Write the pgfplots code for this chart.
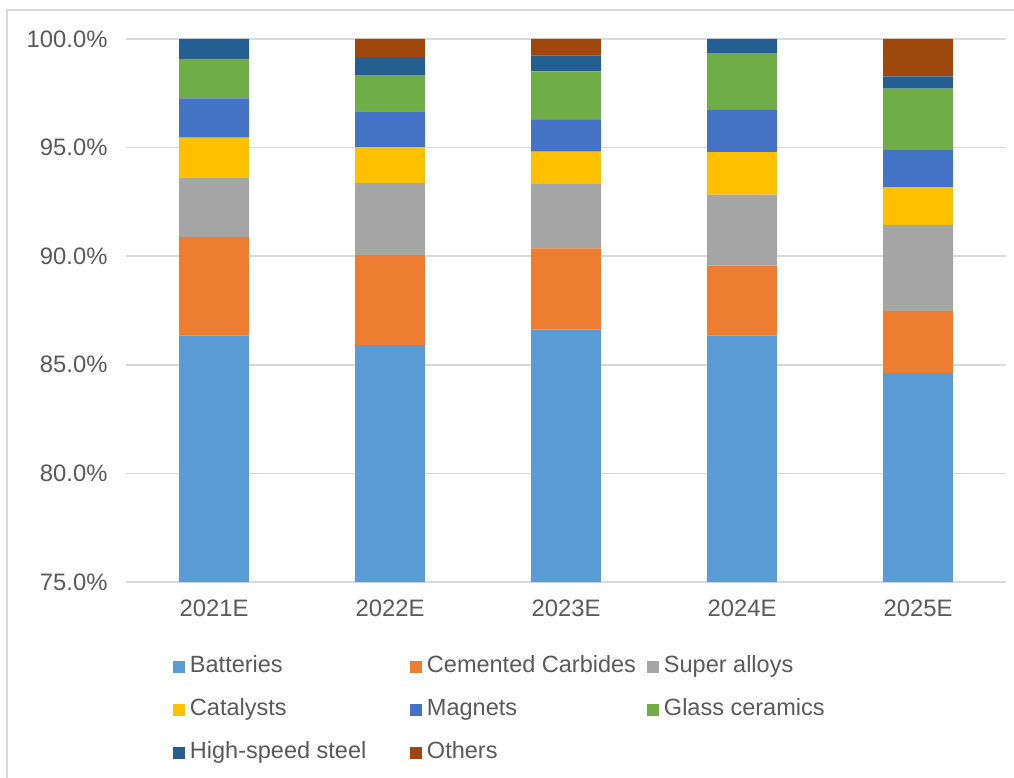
\documentclass[border=0pt]{standalone}
\usepackage{pgfplots}
\pgfplotsset{compat=1.18}
\usepackage{fontspec}
\setmainfont{Liberation Sans}
\definecolor{cBat}{HTML}{5B9BD5}
\definecolor{cCem}{HTML}{ED7D31}
\definecolor{cSup}{HTML}{A5A5A5}
\definecolor{cCat}{HTML}{FFC000}
\definecolor{cMag}{HTML}{4472C4}
\definecolor{cGla}{HTML}{70AD47}
\definecolor{cHss}{HTML}{255E91}
\definecolor{cOth}{HTML}{9E480E}
\definecolor{textgray}{HTML}{595959}
\definecolor{gridgray}{HTML}{D9D9D9}
\begin{document}
\begin{tikzpicture}
\useasboundingbox (0pt,0pt) rectangle (1014pt,777pt);
\draw[gridgray, line width=2pt] (7pt,-20pt) -- (7pt,767pt) -- (1040pt,767pt);
\begin{axis}[
  at={(126pt,195pt)}, anchor=south west,
  scale only axis, width=880pt, height=543pt,
  ybar stacked, bar width=70pt,
  xmin=-0.5, xmax=4.5, ymin=75, ymax=100,
  xtick={0,1,2,3,4},
  xticklabels={2021E,2022E,2023E,2024E,2025E},
  ytick={75,80,85,90,95,100},
  yticklabels={75.0\%,80.0\%,85.0\%,90.0\%,95.0\%,100.0\%},
  major tick length=0pt,
  axis line style={draw=none},
  ymajorgrids, grid style={draw=gridgray, line width=1.5pt},
  tick label style={font=\fontsize{23.8}{28}\selectfont, text=textgray},
  yticklabel style={xshift=-15pt},
  xticklabel style={yshift=-14pt},
  legend columns=3,
  legend cell align=left,
  legend style={draw=none, fill=none, inner sep=0pt, outer sep=0pt,
    at={(axis description cs:0.0534,-0.1354)}, anchor=north west,
    font=\fontsize{23.5}{28}\selectfont, text=textgray,
    row sep=21pt,
    nodes={inner xsep=5pt, inner ysep=0pt, text height=17pt, text depth=5pt},
    /tikz/every even column/.append style={column sep=0pt}},
  legend image code/.code={\fill[#1] (0pt,-6pt) rectangle (12pt,6pt);},
  every axis plot/.append style={draw=none},
]
\addplot[fill=cBat] coordinates {(0,86.35) (1,85.91) (2,86.62) (3,86.35) (4,84.62)};
\addplot[fill=cCem] coordinates {(0,4.54) (1,4.14) (2,3.74) (3,3.22) (4,2.85)};
\addplot[fill=cSup] coordinates {(0,2.74) (1,3.31) (2,2.96) (3,3.27) (4,3.97)};
\addplot[fill=cCat] coordinates {(0,1.83) (1,1.66) (2,1.50) (3,1.95) (4,1.74)};
\addplot[fill=cMag] coordinates {(0,1.81) (1,1.65) (2,1.46) (3,1.95) (4,1.70)};
\addplot[fill=cGla] coordinates {(0,1.81) (1,1.67) (2,2.23) (3,2.61) (4,2.83)};
\addplot[fill=cHss] coordinates {(0,0.92) (1,0.82) (2,0.74) (3,0.65) (4,0.57)};
\addplot[fill=cOth] coordinates {(0,0.00) (1,0.84) (2,0.75) (3,0.00) (4,1.72)};
\legend{\makebox[215pt][l]{Batteries},\makebox[215pt][l]{Cemented Carbides},\makebox[215pt][l]{Super alloys},
\makebox[215pt][l]{Catalysts},\makebox[215pt][l]{Magnets},\makebox[215pt][l]{Glass ceramics},
\makebox[215pt][l]{High-speed steel},\makebox[215pt][l]{Others}}
\end{axis}
\end{tikzpicture}
\end{document}
